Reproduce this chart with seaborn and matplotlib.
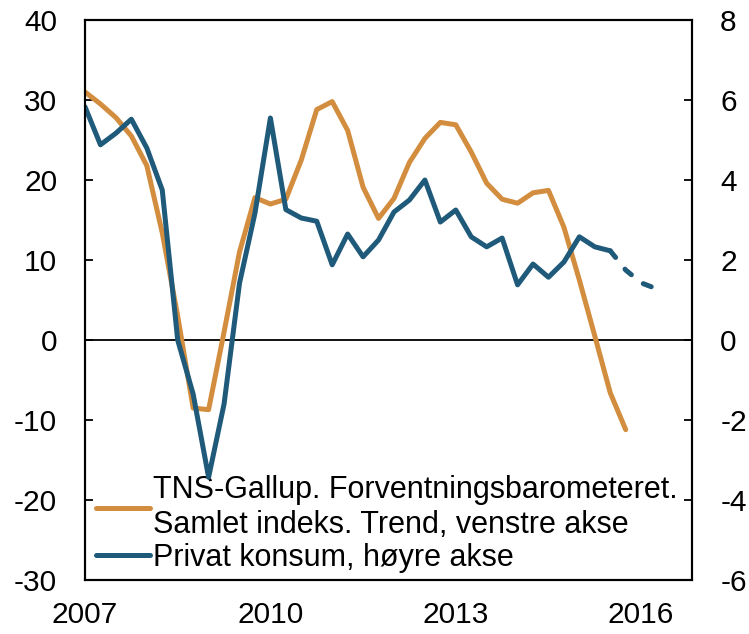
import numpy as np
import pandas as pd
import seaborn as sns
import matplotlib.pyplot as plt

# quarterly data, 2007Q1 onwards
tns = [31.0, 29.5, 27.8, 25.5, 21.8, 13.4, 3.0, -8.5, -8.7, 1.0,
       11.0, 17.8, 17.0, 17.6, 22.5, 28.8, 29.8, 26.2, 19.1, 15.2,
       17.7, 22.2, 25.2, 27.2, 26.9, 23.5, 19.6, 17.6, 17.1, 18.4,
       18.7, 14.1, 7.5, 0.5, -6.6, -11.2]
konsum = [5.83, 4.88, 5.17, 5.52, 4.80, 3.75, 0.0, -1.35, -3.43, -1.6,
          1.42, 3.17, 5.55, 3.26, 3.05, 2.97, 1.88, 2.65, 2.08, 2.50,
          3.20, 3.50, 4.00, 2.95, 3.25, 2.58, 2.33, 2.55, 1.38, 1.90,
          1.57, 1.95, 2.58, 2.33, 2.23, 1.75, 1.43, 1.28]
n_actual = 35  # konsum values after this are projections (dashed)

years = [2007, 2010, 2013, 2016]
left_ticks = [40, 30, 20, 10, 0, -10, -20, -30]
right_ticks = [8, 6, 4, 2, 0, -2, -4, -6]

q = pd.period_range("2007Q1", periods=len(konsum), freq="Q")
t = q.year + (q.quarter - 1) / 4
df_tns = pd.DataFrame({"t": t[:len(tns)], "v": tns})
df_k = pd.DataFrame({"t": t, "v": konsum})

orange = "#D38D3F"
blue = "#1F5A7A"

sns.set_style("white")
plt.rcParams["font.family"] = ["Liberation Sans", "DejaVu Sans"]
plt.rcParams["font.size"] = 21.5
plt.rcParams["axes.unicode_minus"] = False
plt.rcParams["text.color"] = "black"

fig = plt.figure(figsize=(7.49, 6.34), dpi=100)
ax = fig.add_axes([0.1135, 0.085, 0.811, 0.8835])
ax2 = ax.twinx()

ax.axhline(0, color="black", lw=1.3, zorder=1)
sns.lineplot(data=df_tns, x="t", y="v", ax=ax, color=orange, lw=3.6,
             solid_capstyle="round")
sns.lineplot(data=df_k.iloc[:n_actual], x="t", y="v", ax=ax2, color=blue,
             lw=3.6, solid_capstyle="round")
sns.lineplot(data=df_k.iloc[n_actual - 1:], x="t", y="v", ax=ax2, color=blue,
             lw=3.6, dashes=False, linestyle=(0, (1.7, 3.0)),
             dash_capstyle="round")

ax.set_xlim(2007, 2016.83)
ax.set_ylim(-30, 40)
ax2.set_ylim(-6, 8)
ax.set_xticks(years)
ax.set_xticklabels([str(y) for y in years])
ax.set_yticks(left_ticks)
ax2.set_yticks(right_ticks)
for a in (ax, ax2):
    a.set_xlabel("")
    a.set_ylabel("")
    for s in ("left", "right", "bottom", "top"):
        a.spines[s].set_color("black")
        a.spines[s].set_linewidth(1.5)
    a.tick_params(direction="in", length=6, width=1.3, labelsize=21.5,
                  colors="black", pad=20)
ax.tick_params(axis="x", pad=15)
ax2.tick_params(axis="y", right=True)

handles = [plt.Line2D([], [], color=orange, lw=3.6),
           plt.Line2D([], [], color=blue, lw=3.6)]
labels = ["TNS-Gallup. Forventningsbarometeret.\nSamlet indeks. Trend, venstre akse",
          "Privat konsum, høyre akse"]
ax.legend(handles, labels, loc="lower left", bbox_to_anchor=(-0.012, -0.02),
          frameon=False, fontsize=22, handlelength=1.75, handletextpad=0.12,
          labelspacing=0.1, borderaxespad=0.2)

fig.savefig("out.png", dpi=100)
